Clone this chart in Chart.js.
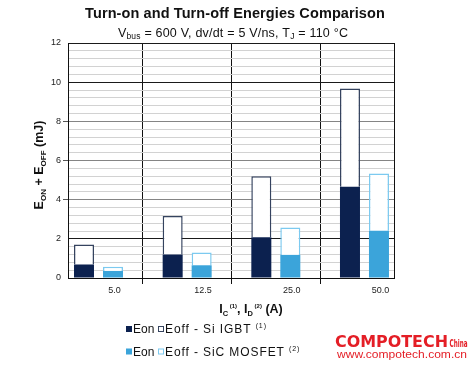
<!DOCTYPE html>
<html>
<head>
<meta charset="utf-8">
<script src="https://cdn.jsdelivr.net/npm/chart.js@4"></script>
<style>
  html, body { margin: 0; padding: 0; background: #fff; }
</style>
</head>
<body>
<canvas id="chart" width="475" height="365"></canvas>
<script>
// values (mJ)
const categories = ['5.0', '12.5', '25.0', '50.0'];
const igbtEon = [0.69, 1.20, 2.08, 4.66];
const igbtEoff = [1.02, 1.96, 3.11, 5.02];
const sicEon = [0.36, 0.65, 1.18, 2.41];
const sicEoff = [0.22, 0.65, 1.40, 2.92];
const yLabels = [0, 2, 4, 6, 8, 10, 12];

const FONT = "'Liberation Sans', Arial, sans-serif";
const X_MIN = -0.344;
const X_MAX = 3.333;
const LABEL_SHIFT = 0.18;
const Y_MINOR = 0.4;

const NAVY = '#0c214f';
const NAVY_EDGE = '#35435f';
const BLUE = '#3ba4da';
const BLUE_EDGE = '#7ccaf0';
const RED = '#e41e26';

function toPoints(values) {
  return values.map((v, i) => ({ x: i, y: v }));
}

function near(a, b) { return Math.abs(a - b) < 1e-6; }

function isMajor(v) { return yLabels.some(l => near(l, v)); }

// draws a run of text pieces (for sub/superscripts)
function drawRich(ctx, x, y, parts, align, spacing) {
  ctx.letterSpacing = (spacing || 0) + 'px';
  let total = 0;
  parts.forEach(p => {
    ctx.font = (p.bold ? 'bold ' : '') + p.size + 'px ' + FONT;
    p.w = ctx.measureText(p.text).width;
    total += p.w;
  });
  let cx = align === 'center' ? x - total / 2 : x;
  ctx.textAlign = 'left';
  ctx.textBaseline = 'alphabetic';
  parts.forEach(p => {
    ctx.font = (p.bold ? 'bold ' : '') + p.size + 'px ' + FONT;
    ctx.fillText(p.text, cx, y + (p.dy || 0));
    cx += p.w;
  });
  ctx.letterSpacing = '0px';
  return total;
}

function fitText(ctx, text, font, x, y, width) {
  ctx.font = font;
  const w = ctx.measureText(text).width;
  ctx.save();
  ctx.translate(x, y);
  ctx.scale(width / w, 1);
  ctx.textAlign = 'left';
  ctx.fillText(text, 0, 0);
  ctx.restore();
}

const textPlugin = {
  id: 'texts',
  beforeDraw(chart) {
    const ctx = chart.ctx;
    ctx.save();
    ctx.fillStyle = '#fff';
    ctx.fillRect(0, 0, chart.width, chart.height);
    ctx.restore();
  },
  afterDraw(chart) {
    const ctx = chart.ctx;
    ctx.save();
    ctx.fillStyle = '#111';

    drawRich(ctx, 235, 18, [{ text: 'Turn-on and Turn-off Energies Comparison', size: 14.5, bold: true }], 'center', 0.1);
    drawRich(ctx, 233, 36.5, [
      { text: 'V', size: 12.5 },
      { text: 'bus', size: 8.5, dy: 2.5 },
      { text: ' = 600 V, dv/dt = 5 V/ns, T', size: 12.5 },
      { text: 'J', size: 8.5, dy: 2.5 },
      { text: ' = 110 \u00b0C', size: 12.5 }
    ], 'center', 0.2);

    // y axis title
    ctx.save();
    ctx.translate(43, 165);
    ctx.rotate(-Math.PI / 2);
    drawRich(ctx, 0, 0, [
      { text: 'E', size: 12.5, bold: true },
      { text: 'ON', size: 8, bold: true, dy: 3 },
      { text: ' + E', size: 12.5, bold: true },
      { text: 'OFF', size: 8, bold: true, dy: 3 },
      { text: ' (mJ)', size: 12.5, bold: true }
    ], 'center');
    ctx.restore();

    // x axis title
    drawRich(ctx, 251, 313, [
      { text: 'I', size: 12.5, bold: true },
      { text: 'C', size: 7.5, bold: true, dy: 2.5 },
      { text: ' (1)', size: 6, bold: true, dy: -5 },
      { text: ', I', size: 12.5, bold: true },
      { text: 'D', size: 7.5, bold: true, dy: 2.5 },
      { text: ' (2)', size: 6, bold: true, dy: -5 },
      { text: ' (A)', size: 12.5, bold: true }
    ], 'center');

    // legend
    const rows = [
      { fill: NAVY, edge: NAVY_EDGE, label: 'Eoff - Si IGBT ', note: '(1)', y: 333 },
      { fill: BLUE, edge: BLUE_EDGE, label: 'Eoff - SiC MOSFET ', note: '(2)', y: 355.5 }
    ];
    rows.forEach(r => {
      ctx.fillStyle = r.fill;
      ctx.fillRect(126, r.y - 7, 6, 6);
      ctx.fillStyle = '#fff';
      ctx.fillRect(158, r.y - 7, 6, 6);
      ctx.strokeStyle = r.edge;
      ctx.lineWidth = 1;
      ctx.strokeRect(158.5, r.y - 6.5, 5, 5);
      ctx.fillStyle = '#111';
      drawRich(ctx, 133, r.y, [{ text: 'Eon', size: 12 }], 'left');
      drawRich(ctx, 165, r.y, [
        { text: r.label, size: 12 },
        { text: r.note, size: 7, dy: -5 }
      ], 'left', 0.9);
    });

    // watermark
    ctx.fillStyle = RED;
    fitText(ctx, 'COMPOTECH', "bold 15px 'DejaVu Sans', sans-serif", 335, 347, 113);
    fitText(ctx, 'China', "bold 10.5px 'DejaVu Sans', sans-serif", 449.5, 347, 18);
    fitText(ctx, 'www.compotech.com.cn', '10px ' + FONT, 337, 357.5, 130);
    ctx.restore();
  }
};

const ctx = document.getElementById('chart').getContext('2d');
new Chart(ctx, {
  type: 'bar',
  data: {
    datasets: [
      { label: 'Eon - Si IGBT', data: toPoints(igbtEon), stack: 'igbt', backgroundColor: NAVY, borderWidth: 0 },
      { label: 'Eoff - Si IGBT', data: toPoints(igbtEoff), stack: 'igbt', backgroundColor: '#fff', borderColor: NAVY_EDGE, borderWidth: 1.5 },
      { label: 'Eon - SiC MOSFET', data: toPoints(sicEon), stack: 'sic', backgroundColor: BLUE, borderWidth: 0 },
      { label: 'Eoff - SiC MOSFET', data: toPoints(sicEoff), stack: 'sic', backgroundColor: '#fff', borderColor: BLUE_EDGE, borderWidth: 1.5 }
    ]
  },
  options: {
    responsive: false,
    animation: false,
    devicePixelRatio: 1,
    categoryPercentage: 0.654,
    barPercentage: 0.69,
    layout: { padding: { left: 0, top: 43, right: 81, bottom: 0 } },
    plugins: {
      legend: { display: false },
      title: { display: false },
      tooltip: { enabled: false }
    },
    scales: {
      xg: {
        type: 'linear',
        position: 'bottom',
        weight: 0,
        min: X_MIN,
        max: X_MAX,
        offset: false,
        afterBuildTicks: s => { s.ticks = [0.5, 1.5, 2.5].map(v => ({ value: v })); },
        afterFit: s => { s.height = 0; },
        ticks: { display: false },
        grid: { offset: false, color: '#111', tickLength: 6, drawTicks: true },
        border: { display: false }
      },
      x: {
        type: 'linear',
        position: 'bottom',
        weight: 1,
        min: X_MIN,
        max: X_MAX,
        offset: false,
        afterBuildTicks: s => { s.ticks = categories.map((c, i) => ({ value: i + LABEL_SHIFT })); },
        afterFit: s => { s.height = 87; },
        ticks: {
          autoSkip: false,
          maxRotation: 0,
          padding: 7,
          color: '#222',
          font: { family: FONT, size: 9 },
          callback: (v, i) => categories[i]
        },
        grid: { offset: false, display: false, drawTicks: false },
        border: { display: true, color: '#111', width: 1 }
      },
      y: {
        type: 'linear',
        stacked: true,
        min: 0,
        max: 12,
        afterFit: s => { s.width = 68; },
        afterBuildTicks: s => {
          const ticks = [];
          for (let k = 0; k * Y_MINOR <= s.max + 1e-9; k++) {
            ticks.push({ value: Math.round(k * Y_MINOR * 10) / 10 });
          }
          s.ticks = ticks;
        },
        ticks: {
          autoSkip: false,
          padding: 2,
          color: '#222',
          font: { family: FONT, size: 9 },
          callback: v => (isMajor(v) ? String(Math.round(v)) : '')
        },
        grid: {
          tickLength: 5,
          color: c => {
            const v = c.tick ? c.tick.value : 0;
            if (near(v, 2) || near(v, 10) || near(v, 12)) return '#1a1a1a';
            if (isMajor(v)) return '#858585';
            return '#d2d2d2';
          },
          tickColor: c => {
            const v = c.tick ? c.tick.value : 0;
            return isMajor(v) && v > 2 && v < 10 ? '#555' : 'transparent';
          }
        },
        border: { display: true, color: '#111', width: 1 }
      },
      y2: {
        position: 'right',
        afterFit: s => { s.width = 0; },
        ticks: { display: false },
        grid: { display: false },
        border: { display: true, color: '#111', width: 1 }
      }
    }
  },
  plugins: [textPlugin]
});
</script>
</body>
</html>
